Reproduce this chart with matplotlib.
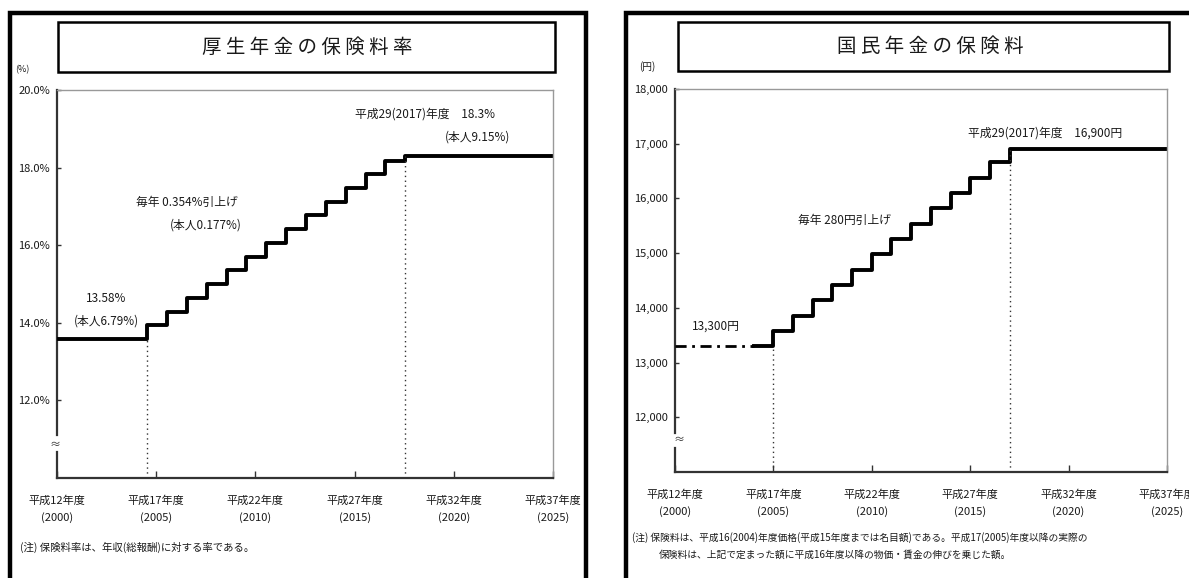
import matplotlib
matplotlib.use("Agg")
import matplotlib.pyplot as plt
from matplotlib.patches import Rectangle

plt.rcParams['font.family'] = ['Noto Sans CJK JP', 'DejaVu Sans']

W, H = 1189, 578

# --- データ ---
x_ticks = [2000, 2005, 2010, 2015, 2020, 2025]
x_labels = ['平成12年度\n(2000)', '平成17年度\n(2005)', '平成22年度\n(2010)',
            '平成27年度\n(2015)', '平成32年度\n(2020)', '平成37年度\n(2025)']

# 厚生年金の保険料率 (%)
kosei_years = [2000, 2004.55, 2005.55, 2006.55, 2007.55, 2008.55, 2009.55, 2010.55,
               2011.55, 2012.55, 2013.55, 2014.55, 2015.55, 2016.55, 2017.55, 2025]
kosei_rates = [13.58, 13.934, 14.288, 14.642, 14.996, 15.350, 15.704, 16.058,
               16.412, 16.766, 17.120, 17.474, 17.828, 18.182, 18.300, 18.300]
kosei_yticks = [12, 14, 16, 18, 20]
kosei_ylabels = ['12.0%', '14.0%', '16.0%', '18.0%', '20.0%']

# 国民年金の保険料 (円)
kokumin_years = [2004, 2005, 2006, 2007, 2008, 2009, 2010, 2011, 2012,
                 2013, 2014, 2015, 2016, 2017, 2025]
kokumin_fees = [13300, 13580, 13860, 14140, 14420, 14700, 14980, 15260, 15540,
                15820, 16100, 16380, 16660, 16900, 16900]
kokumin_before_years = [2000, 2004]
kokumin_before_fees = [13300, 13300]
kokumin_yticks = [12000, 13000, 14000, 15000, 16000, 17000, 18000]
kokumin_ylabels = ['12,000', '13,000', '14,000', '15,000', '16,000', '17,000', '18,000']

TXT = '#1a1a1a'


def fx(x):
    return x / W


def fy(y):
    return 1 - y / H


def box(x0, y0, x1, y1, lw, color='black'):
    r = Rectangle((fx(x0), fy(y1)), fx(x1) - fx(x0), fy(y0) - fy(y1),
                  transform=fig.transFigure, fill=False, lw=lw, ec=color)
    fig.add_artist(r)


def ftext(x, y, s, size=8, ha='left', va='center', **kw):
    fig.text(fx(x), fy(y), s, fontsize=size, ha=ha, va=va, color=TXT, **kw)


def style_axes(ax, ylo, yhi, gap):
    ax.set_xlim(2000, 2025)
    ax.set_ylim(ylo, yhi)
    for s in ['top', 'right']:
        ax.spines[s].set_color('#999999')
        ax.spines[s].set_linewidth(1)
    ax.spines['bottom'].set_color('#333333')
    ax.spines['bottom'].set_linewidth(1.6)
    ax.spines['left'].set_visible(False)
    # 縦軸の省略(波線)
    tr = ax.get_yaxis_transform()
    ax.plot([0, 0], [ylo, gap[0]], transform=tr, color='#333333', lw=1.6, clip_on=False)
    ax.plot([0, 0], [gap[1], yhi], transform=tr, color='#333333', lw=1.6, clip_on=False)
    ax.set_xticks(x_ticks, x_labels)
    ax.tick_params(axis='x', direction='in', length=5, width=1, pad=12.5,
                   labelsize=8, colors='#333333', labelcolor=TXT)
    ax.tick_params(axis='y', direction='in', length=3, width=1, pad=5,
                   labelsize=8, colors='#333333', labelcolor=TXT, left=True)
    for lab in ax.get_xticklabels():
        lab.set_linespacing(1.65)


fig = plt.figure(figsize=(W / 100, H / 100), dpi=100)

# --- 外枠・タイトル枠 ---
box(10, 13, 586, 600, 3.2)
box(626, 13, 1200, 600, 3.2)
box(58, 22, 555, 72, 1.8)
box(678, 22, 1169, 71, 1.8)

ftext(307, 47, '厚 生 年 金 の 保 険 料 率', size=14, ha='center')
ftext(930, 46, '国 民 年 金 の 保 険 料', size=14, ha='center')

# --- 厚生年金 ---
ax1 = fig.add_axes([fx(57), fy(478), fx(553) - fx(57), fy(90) - fy(478)])
style_axes(ax1, 10, 20, (10.67, 11.11))
ax1.set_yticks(kosei_yticks, kosei_ylabels)
ax1.step(kosei_years, kosei_rates, where='post', color='black', lw=2.8)
ax1.plot([kosei_years[1]] * 2, [10, kosei_rates[0]], color='#333333', lw=1, ls=(0, (1, 2.5)))
ax1.plot([kosei_years[-2]] * 2, [10, kosei_rates[-1]], color='#333333', lw=1, ls=(0, (1, 2.5)))
ax1.text(-0.004, 10.85, '≈', transform=ax1.get_yaxis_transform(), fontsize=8,
         ha='center', va='center', color='#333333')

ftext(22, 70, '(%)', size=6.5, ha='center')
ftext(355, 114, '平成29(2017)年度　18.3%', size=8.5)
ftext(510, 137, '(本人9.15%)', size=8.5, ha='right')
ftext(136, 202, '毎年 0.354%引上げ', size=8.5)
ftext(242, 225, '(本人0.177%)', size=8.5, ha='right')
ftext(106, 299, '13.58%', size=8.5, ha='center')
ftext(106, 321, '(本人6.79%)', size=8.5, ha='center')
ftext(20, 547, '(注) 保険料率は、年収(総報酬)に対する率である。', size=7.5)

# --- 国民年金 ---
ax2 = fig.add_axes([fx(675), fy(472), fx(1167) - fx(675), fy(89) - fy(472)])
style_axes(ax2, 11000, 18000, (11440, 11710))
ax2.set_yticks(kokumin_yticks, kokumin_ylabels)
ax2.plot(kokumin_before_years, kokumin_before_fees, color='black', lw=2,
         ls=(0, (4, 2, 1, 2)))
ax2.step(kokumin_years, kokumin_fees, where='post', color='black', lw=2.8)
ax2.plot([kokumin_years[1]] * 2, [11000, kokumin_fees[0]], color='#333333', lw=1, ls=(0, (1, 2.5)))
ax2.plot([kokumin_years[-2]] * 2, [11000, kokumin_fees[-1]], color='#333333', lw=1, ls=(0, (1, 2.5)))
ax2.text(0.008, 11585, '≈', transform=ax2.get_yaxis_transform(), fontsize=8,
         ha='center', va='center', color='#333333')

ftext(647, 67, '(円)', size=7, ha='center')
ftext(968, 133, '平成29(2017)年度　16,900円', size=8.5)
ftext(798, 220, '毎年 280円引上げ', size=8.5)
ftext(692, 326, '13,300円', size=8.5)
ftext(632, 538, '(注) 保険料は、平成16(2004)年度価格(平成15年度までは名目額)である。平成17(2005)年度以降の実際の', size=7)
ftext(659, 555, '保険料は、上記で定まった額に平成16年度以降の物価・賃金の伸びを乗じた額。', size=7)

fig.savefig('out.png', dpi=100, facecolor='white')
